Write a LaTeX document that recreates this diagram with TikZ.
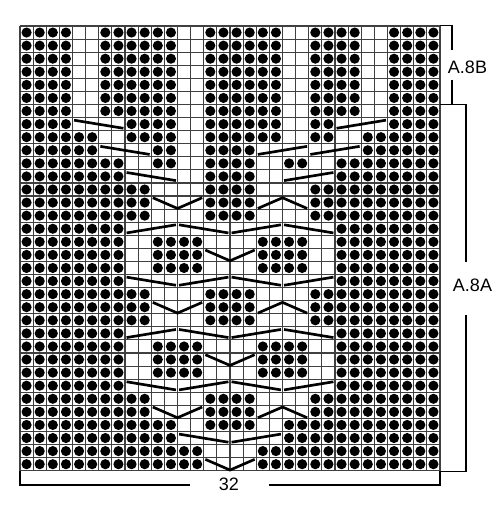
\documentclass[tikz,border=0pt]{standalone}
\usepackage{fontspec}
\setmainfont{Liberation Sans}

\tikzset{
  gridline/.style={draw=black!75, line width=0.85pt},
  cable/.style={line width=2pt},
  bracket/.style={line width=1.1pt},
  lbl/.style={font=\fontsize{13.5}{16}\selectfont, inner sep=0pt},
  cabdown/.pic={\draw[cable] (0.12,0.2) -- (3.88,0.82);},
  cabup/.pic={\draw[cable] (0.12,0.82) -- (3.88,0.2);},
  cabvee/.pic={\draw[cable] (0.12,0.13) -- (2,0.95) -- (3.88,0.13);},
  cabhat/.pic={\draw[cable] (0.12,0.95) -- (2,0.13) -- (3.88,0.95);},
}

\begin{document}
\begin{tikzpicture}[x=0.75pt, y=-0.75pt]
\useasboundingbox (0,0) rectangle (500,508);
% Chart, one unit per stitch
\begin{scope}[shift={(20,26)}, x=9.84375pt, y=-9.81pt]
\foreach \c in {0,...,32} \draw[gridline] (\c,0) -- (\c,34);
\foreach \r in {0,...,34} \draw[gridline] (0,\r) -- (32,\r);
% Purl dots: first row/last row/runs of columns
\foreach \ra/\rb/\runs in {
  1/7/{1/4,7/12,15/20,23/26,29/32},
  8/8/{1/4,9/12,15/20,23/24,29/32},
  9/9/{1/6,9/12,15/20,23/24,27/32},
  10/10/{1/6,11/12,15/18,27/32},
  11/11/{1/8,11/12,15/18,21/22,25/32},
  12/12/{1/8,15/18,25/32},
  13/15/{1/10,15/18,23/32},
  16/16/{1/8,25/32},
  17/19/{1/8,11/14,19/22,25/32},
  20/20/{1/8,25/32},
  21/23/{1/10,15/18,23/32},
  24/24/{1/8,25/32},
  25/27/{1/8,11/14,19/22,25/32},
  28/28/{1/8,25/32},
  29/30/{1/10,15/18,23/32},
  31/31/{1/12,15/18,21/32},
  32/32/{1/12,21/32},
  33/34/{1/14,19/32}}
  \foreach \r in {\ra,...,\rb}
    \foreach \a/\b in \runs
      \foreach \c in {\a,...,\b}
        \fill (\c-0.5,\r-0.5) circle (3.8pt);
% Cables: first column/row
\foreach \c/\r in {5/8,7/10,9/12,13/16,21/16,9/20,17/20,13/24,21/24,9/28,17/28,13/32}
  \pic at (\c-1,\r-1) {cabdown};
\foreach \c/\r in {25/8,19/10,23/10,21/12,9/16,17/16,13/20,21/20,9/24,17/24,13/28,21/28,17/32}
  \pic at (\c-1,\r-1) {cabup};
\foreach \c/\r in {11/14,15/18,11/22,15/26,11/30,15/34}
  \pic at (\c-1,\r-1) {cabvee};
\foreach \c/\r in {19/14,19/22,19/30}
  \pic at (\c-1,\r-1) {cabhat};
\end{scope}
% Labels
\node[lbl] (repB) at (467.5,67) {A.8B};
\node[lbl] (repA) at (472.5,285.5) {A.8A};
\node[lbl] (width) at (229,484.5) {32};
% Brackets
\draw[bracket] (440,25.7) -- (452,25.7) -- (452,50);
\draw[bracket] (452,80) -- (452,104.5);
\draw[bracket] (440,104.5) -- (466,104.5) -- (466,262);
\draw[bracket] (466,315) -- (466,471.5) -- (440,471.5);
\draw[bracket] (20,471) -- (20,485) -- (190,485);
\draw[bracket] (269,485) -- (440,485) -- (440,471);
\end{tikzpicture}
\end{document}
